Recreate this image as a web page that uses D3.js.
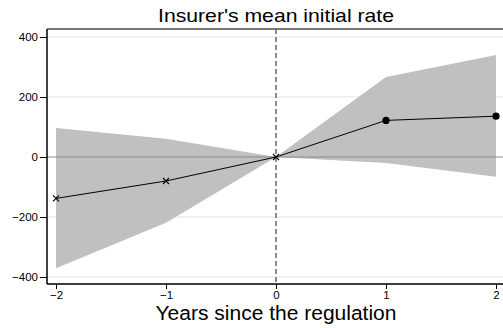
<!DOCTYPE html>
<html>
<head>
<meta charset="utf-8">
<script src="https://cdn.jsdelivr.net/npm/d3@7"></script>
<style>
  html, body { margin: 0; padding: 0; background: #fff; }
  svg { display: block; }
  text { font-family: "Liberation Sans", Arial, sans-serif; fill: #000; }
</style>
</head>
<body>
<svg id="chart" width="503" height="328"></svg>
<script>
// Event-study estimates: years relative to the regulation
const years = [-2, -1, 0, 1, 2];
const estimate = [-138, -80, 0, 122, 136];
const ciUpper = [97, 61, 0, 267, 340];
const ciLower = [-371, -219, 0, -20, -66];
const yTicks = [-400, -200, 0, 200, 400];
const xTicks = [-2, -1, 0, 1, 2];

const W = 503, H = 328;
const plot = { left: 47, right: 503, top: 29, bottom: 284 };

const svg = d3.select("#chart");

const x = d3.scaleLinear().domain([-2, 2]).range([56, 496]);
const y = d3.scaleLinear().domain([-400, 400]).range([277, 37]);

const rows = years.map((yr, i) => ({
  yr, est: estimate[i], hi: ciUpper[i], lo: ciLower[i]
}));

// light horizontal gridlines
svg.append("g")
  .selectAll("line")
  .data(yTicks.filter(d => d !== 0))
  .join("line")
  .attr("x1", plot.left).attr("x2", plot.right)
  .attr("y1", d => y(d)).attr("y2", d => y(d))
  .attr("stroke", "#ececec").attr("stroke-width", 1.5);

// confidence band
svg.append("path")
  .datum(rows)
  .attr("d", d3.area().x(d => x(d.yr)).y0(d => y(d.lo)).y1(d => y(d.hi)))
  .attr("fill", "#c0c0c0");

// zero reference line
svg.append("line")
  .attr("x1", plot.left).attr("x2", plot.right)
  .attr("y1", y(0)).attr("y2", y(0))
  .attr("stroke", "#8c8c8c").attr("stroke-width", 1);

// regulation year marker
svg.append("line")
  .attr("x1", x(0)).attr("x2", x(0))
  .attr("y1", plot.top).attr("y2", plot.bottom)
  .attr("stroke", "#666").attr("stroke-width", 1.5)
  .attr("stroke-dasharray", "5,3");

// point estimates
svg.append("path")
  .datum(rows)
  .attr("d", d3.line().x(d => x(d.yr)).y(d => y(d.est)))
  .attr("fill", "none").attr("stroke", "#000").attr("stroke-width", 1);

const pre = rows.filter(d => d.yr <= 0);
const post = rows.filter(d => d.yr > 0);

svg.append("g")
  .selectAll("path")
  .data(pre)
  .join("path")
  .attr("transform", d => `translate(${x(d.yr)},${y(d.est)})`)
  .attr("d", "M-3,-3L3,3M-3,3L3,-3")
  .attr("stroke", "#000").attr("stroke-width", 1.1);

svg.append("g")
  .selectAll("circle")
  .data(post)
  .join("circle")
  .attr("cx", d => x(d.yr)).attr("cy", d => y(d.est))
  .attr("r", 3.6).attr("fill", "#000");

// frame: gray top border
svg.append("line")
  .attr("x1", plot.left).attr("x2", plot.right)
  .attr("y1", plot.top).attr("y2", plot.top)
  .attr("stroke", "#777").attr("stroke-width", 2);

// axes
const yAxis = svg.append("g")
  .attr("transform", `translate(${plot.left},0)`)
  .call(d3.axisLeft(y).tickValues(yTicks).tickSize(7).tickPadding(2).tickSizeOuter(0));
yAxis.select(".domain").attr("d", `M0,${plot.top}V${plot.bottom}`).attr("stroke", "#000").attr("stroke-width", 1.5);
yAxis.selectAll("text").attr("font-size", 11.5).attr("font-family", "Liberation Sans, Arial, sans-serif");

const xAxis = svg.append("g")
  .attr("transform", `translate(0,${plot.bottom})`)
  .call(d3.axisBottom(x).tickValues(xTicks).tickFormat(d3.format("d")).tickSize(5).tickPadding(2).tickSizeOuter(0));
xAxis.select(".domain").attr("d", `M${plot.left},0H${plot.right}`).attr("stroke", "#000").attr("stroke-width", 1.5);
xAxis.selectAll("text").attr("font-size", 11.5).attr("font-family", "Liberation Sans, Arial, sans-serif");

// title and axis label
svg.append("text")
  .attr("x", x(0)).attr("y", 22)
  .attr("text-anchor", "middle").attr("font-size", 18.5)
  .attr("textLength", 236).attr("lengthAdjust", "spacingAndGlyphs")
  .text("Insurer's mean initial rate");

svg.append("text")
  .attr("x", x(0)).attr("y", 320)
  .attr("text-anchor", "middle").attr("font-size", 20)
  .attr("textLength", 241).attr("lengthAdjust", "spacingAndGlyphs")
  .text("Years since the regulation");
</script>
</body>
</html>
